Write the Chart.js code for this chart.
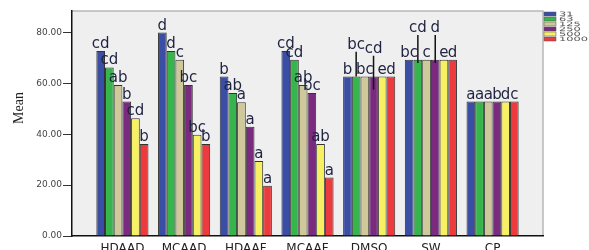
<!DOCTYPE html>
<html>
<head>
<meta charset="utf-8">
<script src="https://cdn.jsdelivr.net/npm/chart.js@4/dist/chart.umd.min.js"></script>
<style>
  body { margin: 0; background: #fff; }
  #chart { display: block; }
</style>
</head>
<body>
<canvas id="chart" width="589" height="250"></canvas>
<script>
// Categories and series
const categories = ['HDAAD', 'MCAAD', 'HDAAF', 'MCAAF', 'DMSO', 'SW', 'CP'];
const seriesNames = ['31', '63', '125', '250', '500', '1000'];

const s31   = [72.8, 80.0, 62.7, 72.8, 62.7, 69.3, 52.9];
const s63   = [66.3, 72.8, 56.2, 69.3, 62.7, 69.3, 52.9];
const s125  = [59.4, 69.3, 52.6, 59.4, 62.7, 69.3, 52.9];
const s250  = [52.9, 59.4, 43.0, 56.2, 62.7, 69.3, 52.9];
const s500  = [46.3, 39.8, 29.5, 36.2, 62.7, 69.3, 52.9];
const s1000 = [36.2, 36.2, 19.8, 23.0, 62.7, 69.3, 52.9];

// significance letters above each bar
const l31   = ['cd', 'd',  'b',  'cd', 'b',  'bc', 'a'];
const l63   = ['cd', 'd',  'ab', 'cd', 'bc', 'cd', 'a'];
const l125  = ['ab', 'c',  'a',  'ab', 'bc', 'c',  'a'];
const l250  = ['b',  'bc', 'a',  'bc', 'cd', 'd',  'b'];
const l500  = ['cd', 'bc', 'a',  'ab', 'e',  'e',  'd'];
const l1000 = ['b',  'b',  'a',  'a',  'd',  'd',  'c'];

// error bars that are visible in the picture
const errorBars = [
    { cat: 'DMSO', series: 1, low: 62.7, high: 72.5 },
    { cat: 'DMSO', series: 3, low: 57.6, high: 70.9 },
    { cat: 'SW',   series: 1, low: 68.0, high: 79.1 },
    { cat: 'SW',   series: 3, low: 68.0, high: 79.1 },
];

const yTicks = [0, 20, 40, 60, 80];

const allValues = [s31, s63, s125, s250, s500, s1000];
const allLetters = [l31, l63, l125, l250, l500, l1000];
const colors = ['#3b4ea6', '#35b54b', '#cfc89b', '#7a2b80', '#f7f063', '#ec3a3d'];

// plot frame + letters + error bars
const decorPlugin = {
    id: 'decor',
    beforeDraw(chart) {
        const { ctx, chartArea: a } = chart;
        ctx.save();
        ctx.fillStyle = '#efefef';
        ctx.fillRect(a.left, a.top, a.right - a.left, a.bottom - a.top);
        ctx.strokeStyle = '#b8b8b8';
        ctx.lineWidth = 1.5;
        ctx.beginPath();
        ctx.moveTo(a.left, a.top);
        ctx.lineTo(a.right, a.top);
        ctx.lineTo(a.right, a.bottom);
        ctx.stroke();
        ctx.restore();
    },
    afterDatasetsDraw(chart) {
        const { ctx } = chart;
        const y = chart.scales.y;
        ctx.save();
        // error bars
        ctx.strokeStyle = '#111';
        ctx.lineWidth = 1.5;
        const tops = {};
        errorBars.forEach(e => {
            const i = categories.indexOf(e.cat);
            const el = chart.getDatasetMeta(e.series).data[i];
            const yHi = y.getPixelForValue(e.high);
            ctx.beginPath();
            ctx.moveTo(el.x, yHi);
            ctx.lineTo(el.x, y.getPixelForValue(e.low));
            ctx.stroke();
            tops[e.series + '_' + i] = yHi;
        });
        // letters
        ctx.fillStyle = '#1f2340';
        ctx.font = '15px "DejaVu Sans"';
        ctx.textAlign = 'center';
        ctx.textBaseline = 'alphabetic';
        chart.data.datasets.forEach((ds, d) => {
            chart.getDatasetMeta(d).data.forEach((el, i) => {
                let top = el.y;
                const k = d + '_' + i;
                if (tops[k] !== undefined) top = Math.min(top, tops[k]);
                ctx.fillText(allLetters[d][i], el.x, top - 3);
            });
        });
        // y-axis title
        ctx.fillStyle = '#222';
        ctx.font = '14px "Liberation Serif"';
        ctx.translate(19, 108);
        ctx.rotate(-Math.PI / 2);
        ctx.fillText('Mean', 0, 4);
        ctx.restore();
    },
    afterDraw(chart) {
        // small legend in the top right corner (text is stretched wide in the source)
        const { ctx, chartArea: a } = chart;
        ctx.save();
        chart.data.datasets.forEach((ds, d) => {
            const yy = 12 + d * 5;
            ctx.fillStyle = ds.backgroundColor;
            ctx.fillRect(a.right + 1, yy, 12, 4);
            ctx.strokeStyle = '#555';
            ctx.lineWidth = 0.5;
            ctx.strokeRect(a.right + 1, yy, 12, 4);
            ctx.save();
            ctx.translate(a.right + 16, yy + 2);
            ctx.scale(1.9, 1);
            ctx.font = '6px "DejaVu Sans"';
            ctx.textBaseline = 'middle';
            ctx.fillStyle = '#555';
            ctx.fillText(ds.label, 0, 0);
            ctx.restore();
        });
        ctx.restore();
    }
};

const datasets = seriesNames.map((name, d) => ({
    label: name,
    data: allValues[d].map((v, i) => ({ x: i, y: v })),
    backgroundColor: colors[d],
    borderColor: '#333',
    borderWidth: 1,
    categoryPercentage: 0.845,
    barPercentage: 1.0,
}));

new Chart(document.getElementById('chart'), {
    type: 'bar',
    data: { datasets: datasets },
    options: {
        responsive: false,
        animation: false,
        layout: { padding: { top: 11, right: 46, left: 0, bottom: 0 } },
        plugins: {
            legend: { display: false },
            tooltip: { enabled: false },
        },
        scales: {
            x: {
                type: 'linear',
                offset: false,
                min: -0.817,
                max: 6.817,
                afterBuildTicks: s => { s.ticks = categories.map((c, i) => ({ value: i })); },
                afterFit: s => { s.height = 14; },
                grid: { display: false, offset: false },
                border: { color: '#111', width: 1.5 },
                ticks: {
                    autoSkip: false,
                    maxRotation: 0,
                    padding: -2,
                    color: '#222',
                    font: { family: 'DejaVu Sans', size: 12 },
                    callback: v => categories[v],
                },
            },
            y: {
                min: 0,
                max: 88.5,
                afterBuildTicks: s => { s.ticks = yTicks.map(v => ({ value: v })); },
                afterFit: s => { s.width = 72; },
                grid: { drawOnChartArea: false, tickLength: 9, color: '#333' },
                border: { color: '#111', width: 1.5 },
                ticks: {
                    padding: 1,
                    color: '#444',
                    font: { family: 'DejaVu Sans', size: 9 },
                    callback: v => v.toFixed(2),
                },
            },
        },
    },
    plugins: [decorPlugin],
});
</script>
</body>
</html>
